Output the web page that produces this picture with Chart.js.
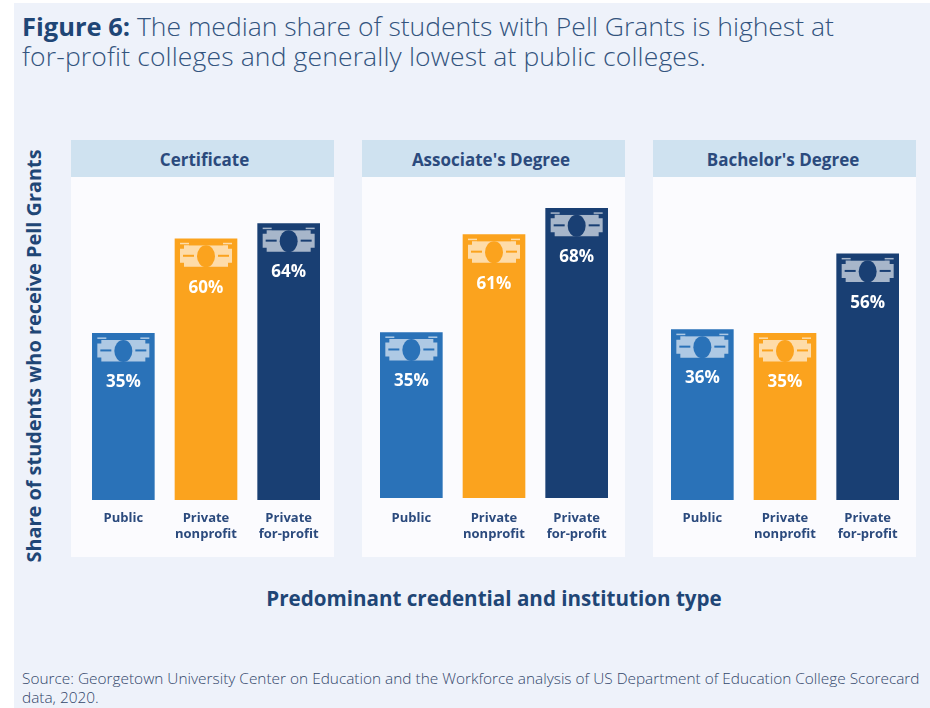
<!DOCTYPE html>
<html lang="en">
<head>
  <meta charset="UTF-8">
  <title>Figure 6</title>
  <script src="https://cdn.jsdelivr.net/npm/chart.js"></script>
  <style>
    body {
      margin: 0;
      width: 930px;
      height: 708px;
      position: relative;
      overflow: hidden;
      font-family: 'Open Sans', sans-serif;
      background: #fff;
      color: #1f4676;
    }

    .page {
      position: absolute;
      left: 14px;
      top: 3px;
      right: 0;
      bottom: 0;
      background: #eef2fa;
    }

    .title {
      position: absolute;
      left: 22px;
      top: 11px;
      font-size: 26.5px;
      line-height: 30px;
      font-weight: 300;
      white-space: nowrap;
      color: #33547e;
    }

    .title b { color: #1f4676; font-weight: 700; font-size: 25.5px; }

    .panel {
      position: absolute;
      top: 140px;
      width: 263px;
      height: 417px;
      background: #fbfbfe;
    }

    .panel h3 {
      margin: 0;
      height: 37px;
      line-height: 39px;
      text-align: center;
      font-size: 17px;
      font-weight: 700;
      background: #cfe2f0;
      color: #2b4a7d;
    }

    .panel canvas { display: block; }

    .y-title {
      position: absolute;
      left: 33px;
      top: 356px;
      transform: translate(-50%, -50%) rotate(-90deg);
      font-size: 19.9px;
      font-weight: 700;
      white-space: nowrap;
    }

    .x-title {
      position: absolute;
      left: 494px;
      top: 598px;
      transform: translate(-50%, -50%);
      font-size: 20.6px;
      font-weight: 700;
      white-space: nowrap;
    }

    .source {
      position: absolute;
      left: 22px;
      top: 669px;
      font-size: 15.4px;
      line-height: 19px;
      font-weight: 300;
      white-space: nowrap;
      color: #33476b;
    }
  </style>
</head>
<body>

<div class="page"></div>

<div class="title"><b>Figure 6:</b> The median share of students with Pell Grants is highest at<br><span style="letter-spacing:.14px">for-profit colleges and generally lowest at public colleges.</span></div>

<div class="panel" style="left:71px"><h3 id="h0" style="text-indent:4px"></h3><canvas id="c0" width="263" height="380"></canvas></div>
<div class="panel" style="left:362px"><h3 id="h1" style="text-indent:-5px"></h3><canvas id="c1" width="263" height="380"></canvas></div>
<div class="panel" style="left:653px"><h3 id="h2" style="text-indent:-3px"></h3><canvas id="c2" width="263" height="380"></canvas></div>

<div class="y-title">Share of students who receive Pell Grants</div>
<div class="x-title">Predominant credential and institution type</div>
<div class="source">Source: Georgetown University Center on Education and the Workforce analysis of US Department of Education College Scorecard<br>data, 2020.</div>

<script>
  const credentials = ["Certificate", "Associate's Degree", "Bachelor's Degree"];
  const institutionTypes = [["Public"], ["Private", "nonprofit"], ["Private", "for-profit"]];
  const certificateValues = [35, 60, 64];
  const associateValues = [35, 61, 68];
  const bachelorValues = [36, 35, 56];
  const barColors = ['#2a72b8', '#fba31e', '#193f73'];

  // bars in the figure don't start at zero, the axis is cut below it
  const axisMin = -9;
  const axisMax = 75;

  // draws the dollar bill and the percent label inside every bar
  const billLabels = {
    id: 'billLabels',
    afterDatasetsDraw(chart) {
      const ctx = chart.ctx;
      const meta = chart.getDatasetMeta(0);
      meta.data.forEach((bar, i) => {
        const color = barColors[i];
        const x = bar.x;
        const top = bar.y;

        ctx.save();
        ctx.fillStyle = 'rgba(255,255,255,0.62)';
        ctx.fillRect(x - 26, top + 4, 52, 1.5);
        ctx.beginPath();
        ctx.moveTo(x - 22, top + 6.5);
        ctx.lineTo(x + 22, top + 6.5);
        ctx.lineTo(x + 22, top + 10);
        ctx.lineTo(x + 26, top + 10);
        ctx.lineTo(x + 26, top + 24);
        ctx.lineTo(x + 22, top + 24);
        ctx.lineTo(x + 22, top + 28);
        ctx.lineTo(x - 22, top + 28);
        ctx.lineTo(x - 22, top + 24);
        ctx.lineTo(x - 26, top + 24);
        ctx.lineTo(x - 26, top + 10);
        ctx.lineTo(x - 22, top + 10);
        ctx.closePath();
        ctx.fill();

        // cut the edge strip into two short pieces
        ctx.fillStyle = color;
        ctx.fillRect(x - 17, top + 3, 34, 3.5);
        ctx.beginPath();
        ctx.ellipse(x, top + 17.5, 9, 11, 0, 0, Math.PI * 2);
        ctx.fill();
        ctx.fillRect(x - 23, top + 16, 11, 2);
        ctx.fillRect(x + 12, top + 16, 11, 2);

        ctx.fillStyle = '#fff';
        ctx.font = "700 17px 'Open Sans'";
        ctx.textAlign = 'center';
        ctx.textBaseline = 'middle';
        ctx.fillText(chart.data.datasets[0].data[i] + '%', x, top + 49);
        ctx.restore();
      });
    }
  };

  function drawPanel(index, values, bottomOffset, leftPad) {
    document.getElementById('h' + index).textContent = credentials[index];

    new Chart(document.getElementById('c' + index), {
      type: 'bar',
      data: {
        labels: institutionTypes,
        datasets: [{
          data: values,
          base: axisMin,
          backgroundColor: barColors,
          barThickness: 62
        }]
      },
      options: {
        responsive: false,
        animation: false,
        layout: { padding: { left: leftPad, right: 15 - leftPad, top: 5, bottom: 0 } },
        plugins: {
          legend: { display: false },
          tooltip: { enabled: false }
        },
        scales: {
          x: {
            grid: { display: false },
            border: { display: false },
            afterFit: scale => { scale.height = 57 + bottomOffset; },
            ticks: {
              color: '#2b4a7d',
              padding: 2 + bottomOffset,
              maxRotation: 0,
              font: { family: "'Open Sans'", size: 13, weight: '700', lineHeight: 1.23 }
            }
          },
          y: { display: false, min: axisMin, max: axisMax }
        }
      },
      plugins: [billLabels]
    });
  }

  drawPanel(0, certificateValues, 0, 11);
  drawPanel(1, associateValues, 2, 8);
  drawPanel(2, bachelorValues, 0, 8);
</script>

</body>
</html>
